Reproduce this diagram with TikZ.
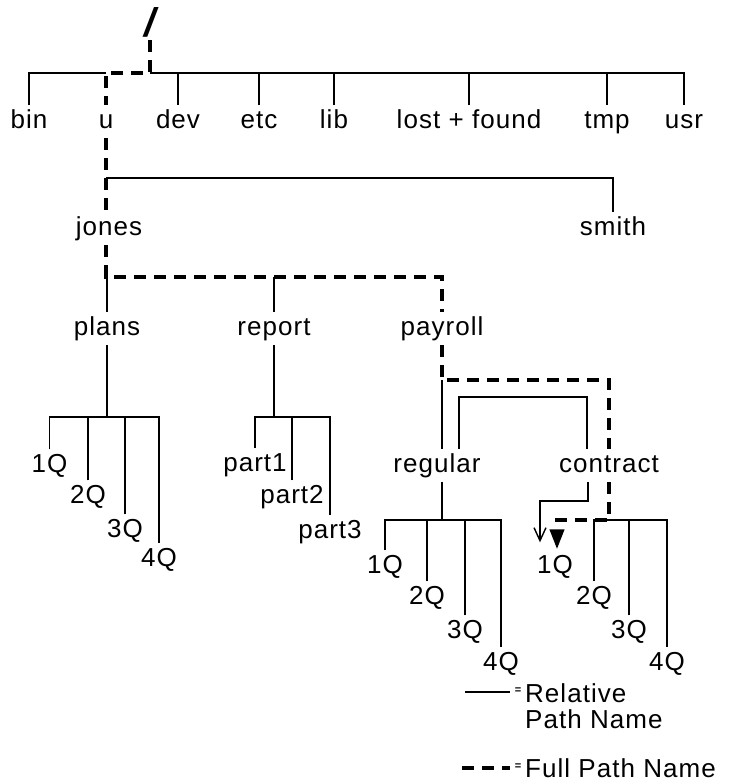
\documentclass[tikz,border=0pt]{standalone}
\usepackage{fontspec}
\setmainfont{Liberation Sans}[LetterSpace=4]
\usetikzlibrary{arrows.meta}

\begin{document}
\begin{tikzpicture}[
  x=1pt, y=-1pt,
  every node/.style={font=\fontsize{26}{26}\selectfont},
  lbl/.style={inner sep=5pt, text height=18pt, text depth=5pt},
  tree/.style={line width=1.8pt},
  full/.style={line width=4pt, dash pattern=on 12pt off 8pt},
  rel/.style={line width=1.4pt},
  eqmark/.style={font=\fontsize{11}{11}\selectfont\bfseries, inner sep=0.5pt}
]
\useasboundingbox (0,0) rectangle (729,782);

% --- bar levels ---
\coordinate (topbar)  at (0,73);
\coordinate (jsbar)   at (0,178);
\coordinate (ppbar)   at (0,277);
\coordinate (qbar)    at (0,417);
\coordinate (pybar)   at (0,380);
\coordinate (relbar)  at (0,397);
\coordinate (relturn) at (0,501);
\coordinate (rbar)    at (0,520);

% --- nodes (absolute placement for fidelity) ---
\node[font=\fontsize{40}{40}\selectfont\bfseries\itshape, anchor=base, inner sep=3pt] (root) at (150,36) {/};

\node[lbl] (bin)  at (29,121.5)  {bin};
\node[lbl] (u)    at (106,121.5) {u};
\node[lbl] (dev)  at (178,121.5) {dev};
\node[lbl] (etc)  at (259,121.5) {etc};
\node[lbl] (lib)  at (334,121.5) {lib};
\node[lbl] (lost) at (469,121.5) {lost + found};
\node[lbl] (tmp)  at (607,121.5) {tmp};
\node[lbl] (usr)  at (684,121.5) {usr};

\node[lbl] (jones) at (109,228.5) {jones};
\node[lbl] (smith) at (613,228.5) {smith};

\node[lbl] (plans)   at (107,328.5) {plans};
\node[lbl] (report)  at (274,328.5) {report};
\node[lbl] (payroll) at (442,328.5) {payroll};

\node[lbl] (p1) at (49.5,466) {1Q};
\node[lbl] (p2) at (88,497)   {2Q};
\node[lbl] (p3) at (125,531)  {3Q};
\node[lbl] (p4) at (159,560)  {4Q};

\node[lbl] (part1) at (255,465) {part1};
\node[lbl] (part2) at (292,497) {part2};
\node[lbl] (part3) at (330,532) {part3};

\node[lbl] (regular)  at (437,465.5) {regular};
\node[lbl] (contract) at (609,465.5) {contract};

\node[lbl] (r1) at (385,567) {1Q};
\node[lbl] (r2) at (427,598) {2Q};
\node[lbl] (r3) at (465,632) {3Q};
\node[lbl] (r4) at (501,664) {4Q};

\node[lbl] (c1) at (555,567) {1Q};
\node[lbl] (c2) at (594,598) {2Q};
\node[lbl] (c3) at (629,632) {3Q};
\node[lbl] (c4) at (667,664) {4Q};

% --- root level ---
\draw[tree] (bin.north) -- (bin.north |- topbar) -- (u.north |- topbar);
\draw[tree] (root.south |- topbar) -- (usr.north |- topbar) -- (usr.north);
\draw[tree] (dev.north) -- (dev.north |- topbar);
\draw[tree] (etc.north) -- (etc.north |- topbar);
\draw[tree] (lib.north) -- (lib.north |- topbar);
\draw[tree] (lost.north) -- (lost.north |- topbar);
\draw[tree] (tmp.north) -- (tmp.north |- topbar);
\draw[full] (root.south) -- (root.south |- topbar) -- (u.north |- topbar) -- (u.north);

% --- u: jones and smith ---
\draw[tree] (u.south |- jsbar) -| (smith.north);
\draw[full] (u.south) -- (u.south |- jones.north);

% --- jones: plans, report, payroll ---
\draw[full] (u.south |- jones.south) -- (u.south |- ppbar) -| (payroll.north);
\draw[tree] (plans.north |- ppbar) -- (plans.north);
\draw[tree] (report.north |- ppbar) -- (report.north);

% plans subtree
\draw[tree] (plans.south) -- (plans.south |- qbar);
\draw[tree] (p1.north) |- (p4.north |- qbar) -- (p4.north);
\draw[tree] (p2.north) -- (p2.north |- qbar);
\draw[tree] (p3.north) -- (p3.north |- qbar);

% report subtree
\draw[tree] (report.south) -- (report.south |- qbar);
\draw[tree] (part1.north) |- (part3.north |- qbar) -- (part3.north);
\draw[tree] (part2.north) -- (part2.north |- qbar);

% --- payroll: regular and contract ---
\draw[tree] (payroll.south |- pybar) -- (payroll.south |- regular.north);
\draw[full] (payroll.south) -- (payroll.south |- pybar) -| (contract.north);

% regular subtree
\draw[tree] (payroll.south |- regular.south) -- (payroll.south |- rbar);
\draw[tree] (r1.north) |- (r4.north |- rbar) -- (r4.north);
\draw[tree] (r2.north) -- (r2.north |- rbar);
\draw[tree] (r3.north) -- (r3.north |- rbar);

% contract subtree
\draw[tree] (c2.north) |- (c4.north |- rbar) -- (c4.north);
\draw[tree] (c3.north) -- (c3.north |- rbar);
\draw[full, -{Triangle[length=20pt, width=14pt]}, shorten >=1pt]
  (contract.south) -- (contract.south |- rbar) -| ([xshift=2pt]c1.north);

% relative path: regular -> contract -> 1Q
\coordinate (regtop) at ([xshift=22pt]regular.north);
\coordinate (contop) at ([xshift=-22pt]contract.north);
\coordinate (conbot) at ([xshift=-21pt]contract.south);
\coordinate (c1tip)  at ([xshift=-15pt]c1.north);
\draw[rel] (regtop) |- (contop |- relbar) -- (contop);
\draw[rel, -{Straight Barb[length=13pt, width=12pt]}, shorten >=8pt]
  (conbot) -- (conbot |- relturn) -| (c1tip);

% --- legend ---
\coordinate (legA) at (465,692);
\coordinate (legB) at (510,692);
\coordinate (legC) at (462,768);
\coordinate (legD) at (510,768);
\node[eqmark] (releq)  at (518,691) {=};
\node[eqmark] (fulleq) at (518,767) {=};
\node[anchor=north west, align=left, inner sep=0pt] (relname) at (525,683) {Relative\\Path Name};
\node[anchor=base west, inner sep=0pt] (fullname) at (525,777) {Full Path Name};
\draw[tree] (legA) -- (legB);
\draw[full] (legC) -- (legD);

\end{tikzpicture}
\end{document}
